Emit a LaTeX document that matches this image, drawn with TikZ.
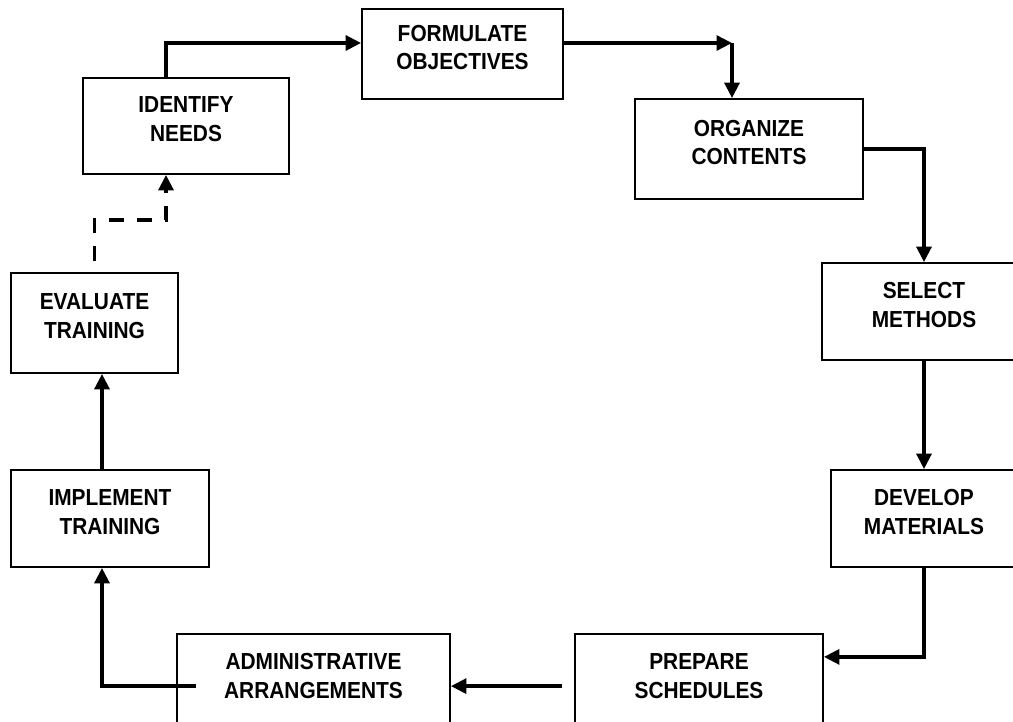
\documentclass[tikz,border=0pt]{standalone}
\usepackage{fontspec}
\setmainfont{Liberation Sans}[FakeStretch=0.9]
\usetikzlibrary{arrows.meta}

\begin{document}
\begin{tikzpicture}[x=0.025cm, y=-0.025cm,
            box/.style = {draw, line width=1.2pt, align=center, inner sep=0pt,
                font=\fontsize{16.5}{20.6}\selectfont\bfseries,
                execute at end node={\rule[-9.4pt]{0pt}{9.4pt}}},
            flow/.style = {line width=2.6pt,
                -{Triangle[length=11pt,width=10.5pt]}},
            back/.style = {flow, dash pattern=on 10.7pt off 9.2pt}]
            \useasboundingbox (0,0) rectangle (1013,722);
            \clip (0,0) rectangle (1013,722);
            % the cycle of boxes
            \node[box, minimum width=5.15cm, minimum height=2.4cm]
                (needs) at (186,126) {IDENTIFY\\NEEDS};
            \node[box, minimum width=5.025cm, minimum height=2.25cm]
                (objectives) at (462.5,54) {FORMULATE\\OBJECTIVES};
            \node[box, minimum width=5.7cm, minimum height=2.5cm]
                (contents) at (749,149) {ORGANIZE\\CONTENTS};
            \node[box, minimum width=5.1cm, minimum height=2.425cm]
                (methods) at (924,311.5) {SELECT\\METHODS};
            \node[box, minimum width=4.65cm, minimum height=2.425cm]
                (materials) at (924,518.5) {DEVELOP\\MATERIALS};
            \node[box, minimum width=6.2cm, minimum height=2.425cm]
                (schedules) at (699,682.5) {PREPARE\\SCHEDULES};
            \node[box, minimum width=6.825cm, minimum height=2.425cm]
                (admin) at (313.5,682.5) {ADMINISTRATIVE\\ARRANGEMENTS};
            \node[box, minimum width=4.95cm, minimum height=2.425cm]
                (implement) at (110,518.5) {IMPLEMENT\\TRAINING};
            \node[box, minimum width=4.175cm, minimum height=2.5cm]
                (evaluate) at (94.5,323) {EVALUATE\\TRAINING};
            \coordinate (turn) at (732,43);
            \coordinate (bend) at (166,220);
            % connectors
            \draw[flow] ([xshift=-0.5cm]needs.north) |- ([yshift=0.275cm]objectives.west);
            \draw[flow] ([yshift=0.275cm]objectives.east) -- (turn);
            \draw[flow] (turn) -- (turn |- contents.north);
            \draw[flow] (contents.east) -| (methods.north);
            \draw[flow] (methods) -- (materials);
            \draw[flow] (materials.south) |- ([yshift=0.64cm]schedules.east);
            \draw[flow] ([xshift=-0.3cm,yshift=-0.09cm]schedules.west) --
                ([yshift=-0.09cm]admin.east);
            \draw[flow] ([xshift=0.5cm,yshift=-0.09cm]admin.west) -|
                ([xshift=-0.2cm]implement.south);
            \draw[flow] ([xshift=-0.2cm]implement.north) --
                ([xshift=-0.2cm]implement.north |- evaluate.south);
            \draw[back] ([yshift=0.275cm]evaluate.north) |- (bend) --
                (bend |- needs.south);
        \end{tikzpicture}
\end{document}
